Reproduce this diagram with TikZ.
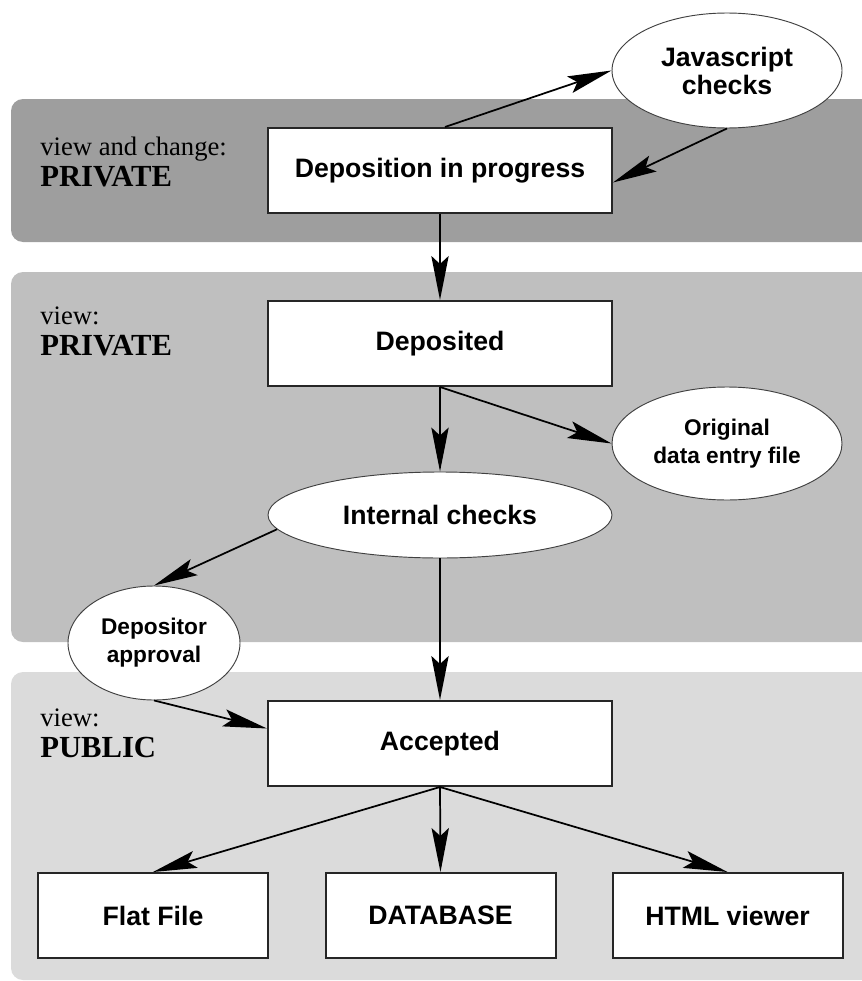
\documentclass[tikz,border=0pt]{standalone}
\usepackage{fontspec}
\setmainfont{Liberation Serif}
\setsansfont{Liberation Sans}
\usetikzlibrary{arrows.meta,shapes.geometric,calc}
\definecolor{bandA}{gray}{0.62}
\definecolor{bandB}{gray}{0.75}
\definecolor{bandC}{gray}{0.86}
\newcommand{\viewtxt}[1]{{\fontsize{20}{23}\selectfont #1}}
\newcommand{\acctxt}[1]{{\bfseries\fontsize{23}{23}\selectfont #1}}
\begin{document}
\begin{tikzpicture}[x=0.75pt,y=-0.75pt,
  band/.style={rounded corners=9pt},
  box/.style={draw=black!85,line width=1.5pt,fill=white,minimum width=258pt,minimum height=63.75pt,inner sep=0pt,font=\sffamily\bfseries\fontsize{20}{24}\selectfont},
  smallbox/.style={box,minimum width=172.5pt},
  ell/.style={ellipse,draw=black!75,line width=0.7pt,fill=white,inner sep=0pt,align=center,font=\sffamily\bfseries\fontsize{20}{21}\selectfont},
  ells/.style={ell,font=\sffamily\bfseries\fontsize{17}{21}\selectfont},
  conn/.style={line width=1.3pt,-{Stealth[length=33pt,width=13pt,inset=6pt]}},
  lab/.style={anchor=north west,inner sep=0pt,align=left,font=\fontsize{20}{23}\selectfont}
]
\useasboundingbox (0,0) rectangle (861,981);
% bands
\fill[bandA,band] (11,99) rectangle (890,242);
\fill[bandB,band] (11,272) rectangle (890,642);
\fill[bandC,band] (11,672) rectangle (890,980);
% labels
\node[lab] (l1) at (40,137) {\viewtxt{view and change:}\\\acctxt{PRIVATE}};
\node[lab] (l2) at (40,307) {\viewtxt{view:}\\\acctxt{PRIVATE}};
\node[lab] (l3) at (40,709) {\viewtxt{view:}\\\acctxt{PUBLIC}};
% nodes
\node[box] (dep)  at (440,170.5) {Deposition in progress};
\node[ell,minimum width=172.5pt,minimum height=86.25pt] (js) at (727,70.5) {Javascript\\checks};
\node[box] (depd) at (440,343.5) {Deposited};
\node[ells,minimum width=172.5pt,minimum height=84.75pt] (orig) at (727,443.5) {Original\\data entry file};
\node[ell,minimum width=258pt,minimum height=64.5pt] (ic) at (440,515) {Internal checks};
\node[ells,minimum width=129pt,minimum height=85.5pt] (dap) at (154,643) {Depositor\\approval};
\node[box] (acc)  at (440,743.5) {Accepted};
\node[smallbox] (ff)   at (153,915.5) {Flat File};
\node[smallbox] (db)   at (440.5,915.5) {DATABASE};
\node[smallbox] (html) at (727.5,915.5) {HTML viewer};
% connectors
\draw[conn] ($(dep.north)+(5,0)$) -- (js.west);
\draw[conn] (js.south) -- ($(dep.east)+(0,12)$);
\draw[conn] (dep.south) -- (depd.north);
\draw[conn] (depd.south) -- (orig.west);
\draw[conn] (depd.south) -- (ic.north);
\draw[conn] (ic.185) -- (dap.north);
\draw[conn] (ic.south) -- (acc.north);
\draw[conn] (dap.south) -- ($(acc.west)+(0,-15)$);
\draw[conn] (acc.south) -- (ff.north);
\draw[conn] (acc.south) -- (db.north);
\draw[conn] (acc.south) -- (html.north);
\end{tikzpicture}
\end{document}
